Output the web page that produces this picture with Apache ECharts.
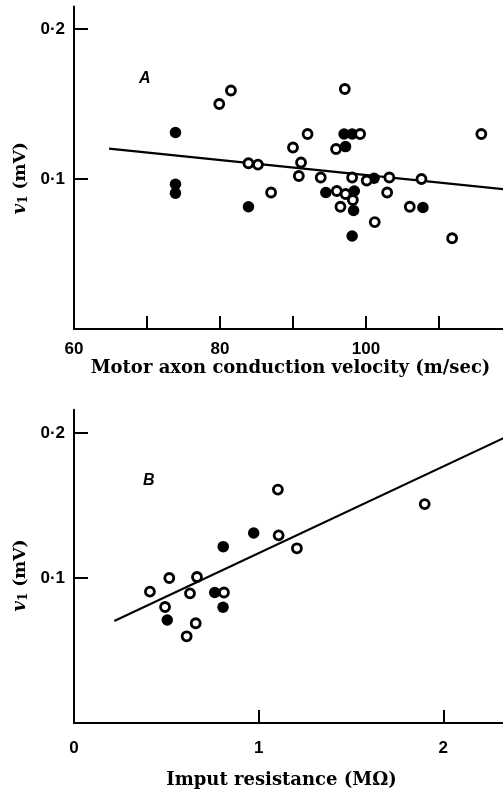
<!DOCTYPE html>
<html><head><meta charset="utf-8">
<script src="https://cdn.jsdelivr.net/npm/echarts@6/dist/echarts.min.js"></script>
<style>html,body{margin:0;padding:0;background:#fff}#c{width:503px;height:793px}</style>
</head><body><div id="c"></div>
<script>
// Panel A: motor axon conduction velocity (m/sec) vs v1 (mV)
const aOpen = [[79.9,0.150],[81.5,0.159],[97.1,0.160],[92.0,0.130],[99.2,0.130],[115.8,0.130],
  [90.0,0.121],[95.9,0.120],[83.9,0.1105],[85.2,0.1096],[91.1,0.111],[90.8,0.102],[93.8,0.101],
  [98.1,0.101],[100.1,0.099],[103.2,0.101],[107.6,0.100],[87.0,0.091],[96.0,0.092],[97.2,0.090],
  [98.2,0.086],[96.5,0.0815],[102.9,0.091],[106.0,0.0815],[101.2,0.0713],[111.8,0.0605]];
const aFilled = [[73.9,0.131],[97.0,0.130],[98.1,0.130],[97.2,0.1216],[101.1,0.1005],[73.9,0.0965],
  [73.9,0.0905],[94.5,0.091],[98.4,0.092],[98.3,0.079],[83.9,0.0815],[107.8,0.081],[98.1,0.062]];
const aFit = [[64.8,0.1202],[120,0.0927]];
const aXTicks = [70,80,90,100,110];
const aXLabels = [60,80,100];
// Panel B: input resistance (MΩ) vs v1 (mV)
const bOpen = [[1.104,0.161],[1.899,0.151],[1.108,0.1294],[1.207,0.1205],[0.411,0.0906],[0.516,0.100],
  [0.666,0.1007],[0.628,0.0894],[0.812,0.090],[0.493,0.080],[0.659,0.0688],[0.610,0.0598]];
const bFilled = [[0.973,0.131],[0.808,0.1216],[0.762,0.090],[0.807,0.0798],[0.505,0.071]];
const bFit = [[0.218,0.0703],[2.4,0.2009]];
const bXTicks = [1,2];
const bXLabels = [0,1,2];
const yTicks = [0.1,0.2];
const yLabels = [0.1,0.2];

const INK = '#000';
const labelFont = {fontFamily:'Liberation Sans', fontWeight:'bold', fontSize:17, color:INK};
const fmtY = v => v.toFixed(1).replace('.', '\u00B7');
const yName = '{i|v}{s|1} (mV)';
const yNameStyle = {fontFamily:'DejaVu Serif', fontSize:17, fontWeight:'bold', color:INK,
  rich:{i:{fontFamily:'DejaVu Serif', fontStyle:'italic', fontWeight:'bold', fontSize:18, color:INK},
        s:{fontFamily:'DejaVu Serif', fontWeight:'bold', fontSize:12, color:INK, verticalAlign:'bottom', padding:[6,0,0,0]}}};

function xAxis(idx, min, max, ticks, labels, name, margin, gap, pad){
  return {type:'value', gridIndex:idx, min:min, max:max,
    axisLine:{show:true, onZero:false, lineStyle:{color:INK, width:2}},
    axisTick:{show:true, inside:true, length:13, customValues:ticks, lineStyle:{color:INK, width:2}},
    axisLabel:{customValues:labels, margin:margin, ...labelFont},
    splitLine:{show:false},
    name:name, nameLocation:'middle', nameGap:gap,
    nameTextStyle:{fontFamily:'DejaVu Serif', fontWeight:'bold', fontSize:18, color:INK, padding:pad}};
}
function yAxis(idx, max, pad){
  return {type:'value', gridIndex:idx, min:0, max:max,
    axisLine:{show:true, onZero:false, lineStyle:{color:INK, width:2}},
    axisTick:{show:true, inside:true, length:14, customValues:yTicks, lineStyle:{color:INK, width:2}},
    axisLabel:{customValues:yLabels, margin:9, formatter:fmtY, ...labelFont},
    splitLine:{show:false},
    name:yName, nameLocation:'middle', nameGap:44, nameRotate:90,
    nameTextStyle:Object.assign({}, yNameStyle, {padding:pad})};
}
const openStyle = {color:'#fff', borderColor:INK, borderWidth:2.8, opacity:1};
function sc(x, y, data, filled){
  return {type:'scatter', xAxisIndex:x, yAxisIndex:y, data:data, symbol:'circle',
    symbolSize: filled ? 11.5 : 9, itemStyle: filled ? {color:INK, opacity:1} : openStyle, z: filled?3:4, silent:true};
}
function ln(x, y, data){
  return {type:'line', xAxisIndex:x, yAxisIndex:y, data:data, symbol:'none',
    lineStyle:{color:INK, width:2.2}, z:2, silent:true};
}
const chart = echarts.init(document.getElementById('c'), null, {renderer:'canvas'});
chart.setOption({
  backgroundColor:'#fff', animation:false,
  title:[
    {text:'A', left:134, top:66, textStyle:{fontFamily:'Liberation Sans', fontStyle:'italic', fontWeight:'bold', fontSize:16, color:INK}},
    {text:'B', left:138, top:468, textStyle:{fontFamily:'Liberation Sans', fontStyle:'italic', fontWeight:'bold', fontSize:16, color:INK}}
  ],
  grid:[
    {left:74, right:0, top:6.5, bottom:464},
    {left:74, right:0, top:409.8, bottom:70}
  ],
  xAxis:[
    xAxis(0, 60, 118.77, aXTicks, aXLabels, 'Motor axon conduction velocity (m/sec)', 12, 28, [0,0,0,4]),
    xAxis(1, 0, 2.323, bXTicks, bXLabels, 'Imput resistance (M\u03A9)', 17, 48, [0,14,0,0])
  ],
  yAxis:[ yAxis(0, 0.215, [0,21,0,0]), yAxis(1, 0.216, [0,18,0,0]) ],
  series:[
    ln(0,0,aFit), sc(0,0,aFilled,true), sc(0,0,aOpen,false),
    ln(1,1,bFit), sc(1,1,bFilled,true), sc(1,1,bOpen,false)
  ]
});
</script></body></html>
